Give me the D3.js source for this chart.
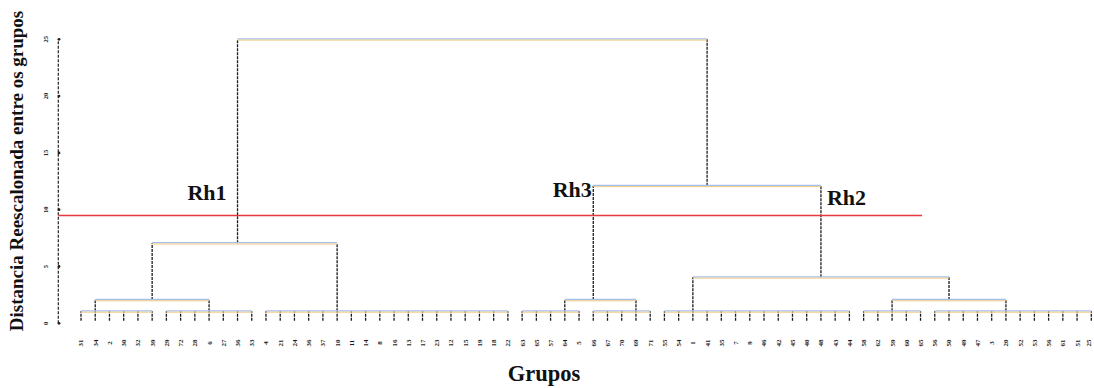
<!DOCTYPE html>
<html>
<head>
<meta charset="utf-8">
<script src="https://cdn.jsdelivr.net/npm/d3@7"></script>
<style>
    body { margin: 0; background: #fff; }
    text { font-family: "Liberation Serif", "DejaVu Serif", serif; }
</style>
</head>
<body>
<svg id="chart" width="1094" height="388"></svg>
<script>
'use strict';

// leaf labels, in dendrogram order
const leafLabels = ['31', '34', '2', '30', '32', '39', '29', '72', '28', '6', '27', '36', '33',
    '4', '21', '24', '36', '37', '10', '11', '14', '8', '16', '13', '17', '23', '12', '15', '19', '18', '22',
    '63', '65', '57', '64', '5', '66', '67', '70', '69', '71',
    '55', '54', '1', '41', '35', '7', '9', '46', '42', '45', '40', '48', '43', '44',
    '58', '62', '59', '60', '65', '56', '50', '49', '47', '3', '20', '52', '53', '56', '61', '51', '25'];

// first level groups: leaf index range, leaf where the stem rises, join distance
const groupNames = ['A', 'B', 'C', 'D', 'E', 'F', 'G', 'H'];
const groupFrom = [0, 6, 13, 31, 36, 41, 55, 60];
const groupTo = [5, 12, 30, 35, 40, 54, 59, 71];
const groupStem = [1, 9, 18, 34, 39, 43, 57, 65];
const groupHeight = [1.05, 1.05, 1.05, 1.05, 1.05, 1.05, 1.05, 1.05];

// later merges
const mergeNames = ['AB', 'ABC', 'DE', 'GH', 'FGH', 'DEFGH', 'root'];
const mergeLeft = ['A', 'AB', 'D', 'G', 'F', 'DE', 'ABC'];
const mergeRight = ['B', 'C', 'E', 'H', 'GH', 'FGH', 'DEFGH'];
const mergeHeight = [2.05, 7.05, 2.05, 2.05, 4.05, 12.1, 25];

const yTicks = [0, 5, 10, 15, 20, 25];
const cutHeight = 9.5;
const regionNames = ['Rh1', 'Rh3', 'Rh2'];
const regionNodes = ['ABC', 'DE', 'FGH'];

const svg = d3.select('#chart');
const x = d3.scaleLinear().domain([0, leafLabels.length - 1]).range([81, 1091.3]);
const y = d3.scaleLinear().domain([0, 25]).range([323.3, 39.3]);

// node positions (in leaf units)
const nodes = {};
const hlines = [];
const vlines = [];

for (let i in groupNames)
{
    nodes[groupNames[i]] = { pos: groupStem[i], h: groupHeight[i] };
    hlines.push({ x1: x(groupFrom[i]), x2: x(groupTo[i]), y: y(groupHeight[i]) });
    for (let k = groupFrom[i]; k <= groupTo[i]; k++)
    {
        vlines.push({ x: x(k), y1: y(0.22), y2: y(groupHeight[i]) });
    }
}

for (let i in mergeNames)
{
    const l = nodes[mergeLeft[i]];
    const r = nodes[mergeRight[i]];
    const h = mergeHeight[i];
    nodes[mergeNames[i]] = { pos: Math.floor((l.pos + r.pos) / 2), h: h };
    hlines.push({ x1: x(l.pos), x2: x(r.pos), y: y(h) });
    vlines.push({ x: x(l.pos), y1: y(l.h), y2: y(h) });
    vlines.push({ x: x(r.pos), y1: y(r.h), y2: y(h) });
}

// vertical stems
svg.append('g').selectAll('line').data(vlines).enter().append('line')
    .attr('x1', (d) => d.x)
    .attr('x2', (d) => d.x)
    .attr('y1', (d) => d.y1)
    .attr('y2', (d) => d.y2)
    .attr('stroke', '#1a1a1a')
    .attr('stroke-width', 1.3)
    .attr('stroke-dasharray', '3,1');

// horizontal joins (blue over orange, like the scanned original)
const hg = svg.append('g');
hg.selectAll('line.b').data(hlines).enter().append('line')
    .attr('class', 'b')
    .attr('x1', (d) => d.x1)
    .attr('x2', (d) => d.x2)
    .attr('y1', (d) => d.y - 0.5)
    .attr('y2', (d) => d.y - 0.5)
    .attr('stroke', '#a3bfec')
    .attr('stroke-width', 1.3);
hg.selectAll('line.o').data(hlines).enter().append('line')
    .attr('class', 'o')
    .attr('x1', (d) => d.x1)
    .attr('x2', (d) => d.x2)
    .attr('y1', (d) => d.y + 0.8)
    .attr('y2', (d) => d.y + 0.8)
    .attr('stroke', '#f1c97e')
    .attr('stroke-width', 1);

// y axis
const ax = svg.append('g');
ax.append('line')
    .attr('x1', 58.3).attr('x2', 58.3)
    .attr('y1', y(0)).attr('y2', y(25))
    .attr('stroke', '#222')
    .attr('stroke-width', 1.2)
    .attr('stroke-dasharray', '3,1.5');
ax.selectAll('circle').data(yTicks).enter().append('circle')
    .attr('cx', 59)
    .attr('cy', (d) => y(d))
    .attr('r', 1.4)
    .attr('fill', '#222');
ax.selectAll('text').data(yTicks).enter().append('text')
    .attr('transform', (d) => 'translate(46,' + y(d) + ') rotate(-90)')
    .attr('text-anchor', 'middle')
    .attr('dy', '0.35em')
    .attr('font-size', 6.5)
    .attr('font-weight', 'bold')
    .attr('fill', '#222')
    .text((d) => d);

// leaf labels (last one kept inside the page edge)
svg.append('g').selectAll('text').data(leafLabels).enter().append('text')
    .attr('transform', (d, i) => 'translate(' + Math.min(x(i), 1088.5) + ',343) rotate(-90)')
    .attr('text-anchor', 'middle')
    .attr('dy', '0.35em')
    .attr('font-size', 7)
    .attr('font-weight', 'bold')
    .attr('fill', '#1a1a1a')
    .text((d) => d);

// cut line
svg.append('line')
    .attr('x1', 58.3).attr('x2', 922)
    .attr('y1', Math.round(y(cutHeight)) + 0.5).attr('y2', Math.round(y(cutHeight)) + 0.5)
    .attr('stroke', '#e8383a')
    .attr('stroke-width', 1.4);

// region labels
const labelDx = [-11, -1.5, 6];
const labelY = [200, 197, 205];
svg.append('g').selectAll('text').data(regionNames).enter().append('text')
    .attr('x', (d, i) => x(nodes[regionNodes[i]].pos) + labelDx[i])
    .attr('y', (d, i) => labelY[i])
    .attr('text-anchor', (d, i) => (labelDx[i] > 0) ? 'start' : 'end')
    .attr('font-size', 22)
    .attr('font-weight', 'bold')
    .attr('fill', '#111')
    .text((d) => d);

// axis titles
svg.append('text')
    .attr('transform', 'translate(23,171) rotate(-90)')
    .attr('text-anchor', 'middle')
    .attr('font-size', 19)
    .attr('font-weight', 'bold')
    .attr('fill', '#111')
    .text('Distancia Reescalonada entre os grupos');

svg.append('text')
    .attr('x', 544)
    .attr('y', 381)
    .attr('text-anchor', 'middle')
    .attr('font-size', 22.5)
    .attr('font-weight', 'bold')
    .attr('fill', '#111')
    .text('Grupos');
</script>
</body>
</html>
